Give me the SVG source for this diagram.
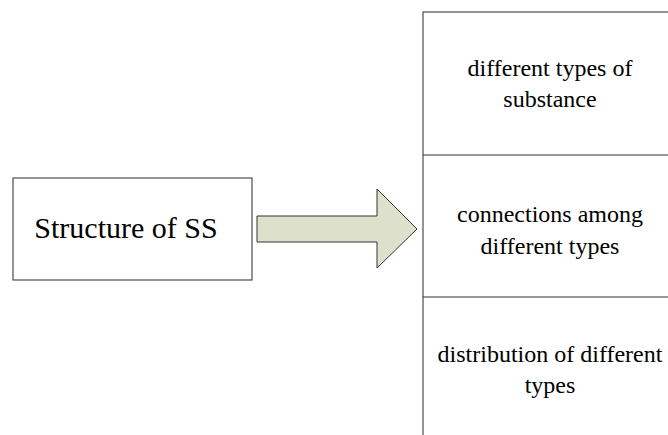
<svg xmlns="http://www.w3.org/2000/svg" width="668" height="435" viewBox="0 0 668 435">
<style>
.box{fill:#fff;stroke:#4d4d4d;stroke-width:1.2}
.t{font-family:'Liberation Serif','Times New Roman',Times,'DejaVu Serif',serif;fill:#000;text-anchor:middle}
</style>
<rect width="668" height="435" fill="#fff"/>
<g id="structure">
<rect class="box" x="13" y="178" width="239" height="102"/>
<text class="t" x="126" y="238" font-size="30">Structure of SS</text>
</g>
<g id="connectors">
<polygon points="257,216 377,216 377,189 417,229 377,268 377,242 257,242" fill="#dde0cb" stroke="#333" stroke-width="1"/>
</g>
<g id="components">
<rect class="box" x="423" y="12" width="260" height="440"/>
<line x1="423" y1="155" x2="668" y2="155" stroke="#333" stroke-width="1.2"/>
<line x1="423" y1="297" x2="668" y2="297" stroke="#333" stroke-width="1.2"/>
</g>
<g id="substance">
<text class="t" x="550" y="76" font-size="24">different types of</text>
<text class="t" x="550" y="107" font-size="24">substance</text>
</g>
<g id="connections">
<text class="t" x="550" y="222" font-size="24">connections among</text>
<text class="t" x="550" y="254" font-size="24">different types</text>
</g>
<g id="distribution">
<text class="t" x="550" y="362" font-size="24">distribution of different</text>
<text class="t" x="550" y="393" font-size="24">types</text>
</g>
</svg>
